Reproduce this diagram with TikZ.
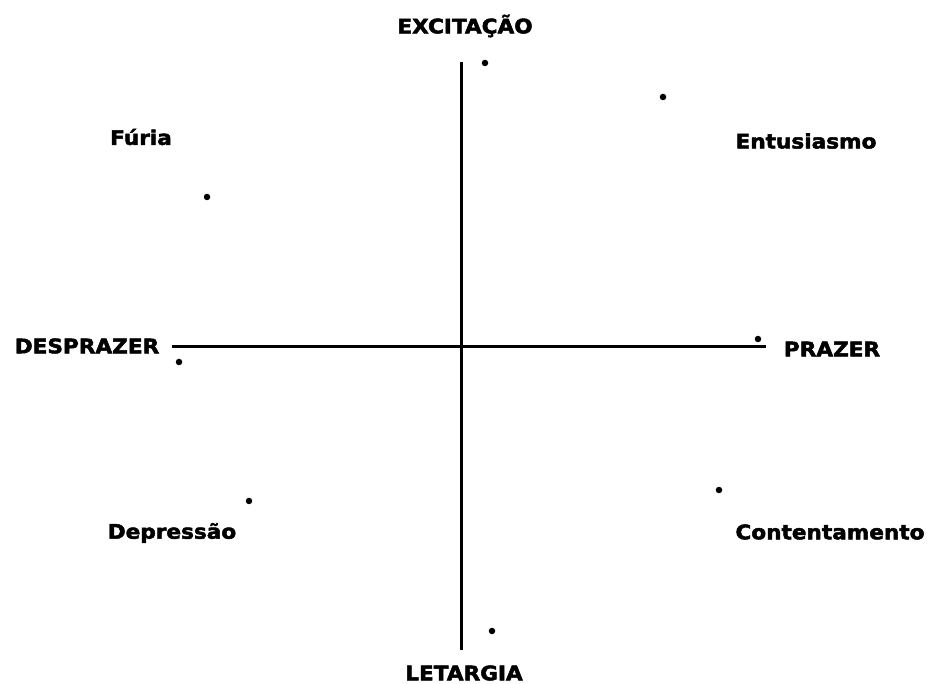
\documentclass[tikz,border=0pt]{standalone}
\usepackage{fontspec}
\usepackage{tikz}
\usetikzlibrary{positioning}
\newfontfamily\labelfont[FakeStretch=1.08, FakeBold=2.4]{DejaVu Sans Bold}

\begin{document}
\begin{tikzpicture}[
  x=1pt, y=-1pt,
  lbl/.style={
    inner sep=0pt,
    font=\labelfont\fontsize{20}{23}\selectfont,
    text=black
  },
  axis/.style={
    line width=3pt,
    color=black
  },
  pt/.style={
    circle,
    fill=black,
    inner sep=0pt,
    minimum size=6.5pt
  }
]
\useasboundingbox (0,0) rectangle (927,684);

% Axes
\coordinate (top)    at (461,62);
\coordinate (bottom) at (461,650);
\coordinate (left)   at (172,347);
\coordinate (right)  at (766,347);
\draw[axis] (top)  -- (bottom);
\draw[axis] (left) -- (right);

% Axis labels
\node[lbl] (excit) at (465,26)  {EXCITAÇÃO};
\node[lbl] (letar) at (464,673) {LETARGIA};
\node[lbl] (despr) at (87,346)  {DESPRAZER};
\node[lbl] (praz)  at (832,349) {PRAZER};

% Emotions
\node[lbl] (furia)   at (141,137) {Fúria};
\node[lbl] (entus)   at (806,141) {Entusiasmo};
\node[lbl] (depress) at (172,533) {Depressão};
\node[lbl] (content) at (830,532) {Contentamento};

% Points
\node[pt] (pexcit)   at (485,63)  {};
\node[pt] (pentus)   at (663,97)  {};
\node[pt] (pfuria)   at (207,197) {};
\node[pt] (ppraz)    at (758,339) {};
\node[pt] (pdespr)   at (179,362) {};
\node[pt] (pdepress) at (249,501) {};
\node[pt] (pcontent) at (719,490) {};
\node[pt] (pletar)   at (492,631) {};

\end{tikzpicture}
\end{document}
